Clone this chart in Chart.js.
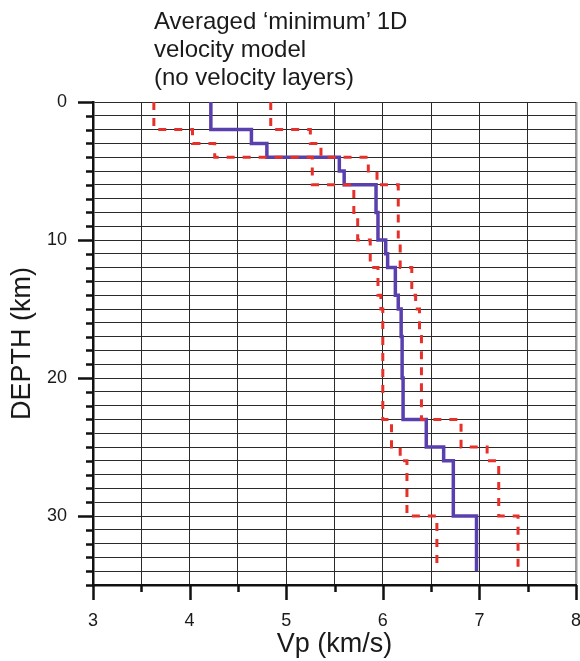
<!DOCTYPE html>
<html lang="en">
<head>
  <meta charset="UTF-8">
  <title>Averaged minimum 1D velocity model</title>
  <style>
    body {
      margin: 0;
      background: #fff;
    }

    #wrap {
      position: relative;
      width: 580px;
      height: 661px;
    }

    #title {
      position: absolute;
      left: 154px;
      top: 7px;
      font: 24px/28px 'Liberation Sans', Arial, sans-serif;
      color: #1a1a1a;
    }

    canvas {
      position: absolute;
      left: 0;
      top: 0;
    }
  </style>
</head>
<body>
  <div id="wrap">
    <canvas id="chart" width="580" height="661"></canvas>
    <div id="title">Averaged ‘minimum’ 1D<br>velocity model<br>(no velocity layers)</div>
  </div>

  <script src="https://cdn.jsdelivr.net/npm/chart.js"></script>
  <script>
    // layer tops (km) and Vp (km/s)
    const modelBottom = 34;

    const avgTops = [0, 2, 3, 4, 5, 6, 8, 10, 11, 12, 14, 15, 17, 20, 23, 25, 26, 30];
    const avgVp = [4.22, 4.64, 4.80, 5.55, 5.60, 5.93, 5.95, 6.03, 6.05, 6.13, 6.16, 6.19, 6.20, 6.21, 6.45, 6.63, 6.73, 6.97];

    const minTops = [0, 2, 3, 4, 6, 8, 10, 12, 14, 15, 23, 25, 26, 30];
    const minVp = [3.63, 4.03, 4.26, 5.27, 5.70, 5.74, 5.87, 5.95, 5.98, 6.00, 6.09, 6.18, 6.25, 6.56];

    const maxTops = [0, 2, 3, 4, 5, 6, 10, 12, 14, 15, 17, 23, 25, 26, 30];
    const maxVp = [4.84, 5.25, 5.36, 5.85, 5.94, 6.16, 6.18, 6.30, 6.34, 6.38, 6.40, 6.81, 7.08, 7.20, 7.40];

    const vpTicks = [3, 4, 5, 6, 7, 8];
    const depthTicks = [0, 10, 20, 30];

    const FONT = "'Liberation Sans', Arial, sans-serif";
    const INK = '#1a1a1a';

    function profile(tops, vp) {
      const pts = tops.map((d, i) => ({ x: vp[i], y: d }));
      pts.push({ x: vp[vp.length - 1], y: modelBottom });
      return pts;
    }

    // major/minor tick marks drawn outside the plot
    const tickMarks = {
      id: 'tickMarks',
      afterDraw(chart) {
        const { ctx, chartArea, scales } = chart;
        ctx.save();
        ctx.strokeStyle = '#111';
        ctx.lineWidth = 2.5;
        ctx.beginPath();
        scales.x.ticks.forEach(t => {
          const px = Math.round(scales.x.getPixelForValue(t.value)) + 0.5;
          const len = vpTicks.includes(t.value) ? 15 : 7;
          ctx.moveTo(px, chartArea.bottom);
          ctx.lineTo(px, chartArea.bottom + len);
        });
        scales.y.ticks.forEach(t => {
          const py = Math.round(scales.y.getPixelForValue(t.value)) + 0.5;
          const len = depthTicks.includes(t.value) ? 15 : 7;
          ctx.moveTo(chartArea.left - len, py);
          ctx.lineTo(chartArea.left, py);
        });
        ctx.stroke();
        ctx.restore();
      }
    };

    Chart.defaults.font.family = FONT;
    Chart.defaults.color = INK;

    new Chart(document.getElementById('chart'), {
      type: 'line',
      data: {
        datasets: [
          {
            label: 'min',
            data: profile(minTops, minVp),
            borderColor: '#e8302a',
            borderWidth: 3,
            borderDash: [8, 8],
            stepped: 'after',
            pointRadius: 0,
            fill: false
          },
          {
            label: 'max',
            data: profile(maxTops, maxVp),
            borderColor: '#e8302a',
            borderWidth: 3,
            borderDash: [8, 8],
            stepped: 'after',
            pointRadius: 0,
            fill: false
          },
          {
            label: 'average',
            data: profile(avgTops, avgVp),
            borderColor: '#5a40ae',
            borderWidth: 3.5,
            stepped: 'after',
            pointRadius: 0,
            fill: false
          }
        ]
      },
      options: {
        responsive: false,
        animation: false,
        layout: { padding: { top: 102, right: 4, left: 0, bottom: 0 } },
        plugins: {
          legend: { display: false },
          tooltip: { enabled: false },
          title: { display: false }
        },
        scales: {
          x: {
            type: 'linear',
            min: 3,
            max: 8,
            ticks: {
              stepSize: 0.5,
              autoSkip: false,
              maxRotation: 0,
              padding: 25,
              font: { size: 18 },
              callback: v => vpTicks.includes(v) ? v : ''
            },
            grid: {
              drawTicks: false,
              color: c => c.tick && c.tick.value === 8 ? '#9a9a9a' : '#2a2a2a',
              lineWidth: c => c.tick && c.tick.value === 8 ? 2.5 : 1
            },
            border: { display: true, color: '#111', width: 2.5 },
            title: {
              display: true,
              text: 'Vp (km/s)',
              font: { size: 27 },
              padding: { top: 0, bottom: 0 }
            },
            afterFit(s) {
              s.height = 76;
              s.paddingLeft = 0;
              s.paddingRight = 0;
            }
          },
          y: {
            type: 'linear',
            reverse: true,
            min: 0,
            max: 35,
            ticks: {
              stepSize: 1,
              autoSkip: false,
              padding: 26,
              font: { size: 18 },
              callback: v => depthTicks.includes(v) ? v : ''
            },
            grid: {
              drawTicks: false,
              color: '#2a2a2a',
              lineWidth: 1
            },
            border: { display: true, color: '#111', width: 2.5 },
            title: {
              display: true,
              text: 'DEPTH (km)',
              font: { size: 27 },
              padding: { top: 6, bottom: 0 }
            },
            afterFit(s) {
              s.width = 93;
              s.paddingTop = 0;
              s.paddingBottom = 0;
            }
          }
        }
      },
      plugins: [tickMarks]
    });
  </script>
</body>
</html>
